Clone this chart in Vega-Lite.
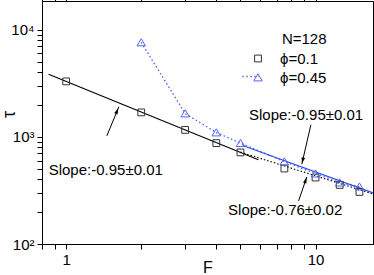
{
  "$schema": "https://vega.github.io/schema/vega-lite/v6.json",
  "width": 331,
  "height": 243,
  "autosize": "none",
  "padding": {"left": 42, "top": 1, "right": 1, "bottom": 31},
  "config": {
    "font": "Liberation Sans",
    "view": {"stroke": "black", "strokeWidth": 1},
    "axis": {"grid": false, "domainColor": "black", "tickColor": "black", "labelColor": "black", "titleColor": "black", "labelFontSize": 15, "labelFont": "Liberation Sans", "titleFont": "Liberation Sans", "titleFontWeight": "normal", "labelOverlap": false, "labelFlush": false, "tickWidth": 1, "domainWidth": 1},
    "text": {"font": "Liberation Sans", "fontSize": 15, "color": "black"}
  },
  "datasets": {
    "pts": [
      {"F": 1, "tau": 3290, "s": "ϕ=0.1"},
      {"F": 2, "tau": 1690, "s": "ϕ=0.1"},
      {"F": 3, "tau": 1160, "s": "ϕ=0.1"},
      {"F": 4, "tau": 873, "s": "ϕ=0.1"},
      {"F": 5, "tau": 715, "s": "ϕ=0.1"},
      {"F": 7.5, "tau": 506, "s": "ϕ=0.1"},
      {"F": 10, "tau": 417, "s": "ϕ=0.1"},
      {"F": 12.5, "tau": 356, "s": "ϕ=0.1"},
      {"F": 15, "tau": 306, "s": "ϕ=0.1"},
      {"F": 2, "tau": 7600, "s": "ϕ=0.45"},
      {"F": 3, "tau": 1650, "s": "ϕ=0.45"},
      {"F": 4, "tau": 1097, "s": "ϕ=0.45"},
      {"F": 5, "tau": 873, "s": "ϕ=0.45"},
      {"F": 7.5, "tau": 588, "s": "ϕ=0.45"},
      {"F": 10, "tau": 454, "s": "ϕ=0.45"},
      {"F": 12.5, "tau": 374, "s": "ϕ=0.45"},
      {"F": 15, "tau": 343, "s": "ϕ=0.45"}
    ],
    "fit": [
      {"F": 0.85, "tau": 3840, "line": "black"},
      {"F": 5.9, "tau": 610, "line": "black"},
      {"F": 5, "tau": 720, "line": "blackdot"},
      {"F": 17, "tau": 293, "line": "blackdot"},
      {"F": 5.1, "tau": 830, "line": "blue"},
      {"F": 17, "tau": 300, "line": "blue"}
    ],
    "notes": [
      {"F": 0.851, "tau": 493, "text": "Slope:-0.95±0.01"},
      {"F": 5.41, "tau": 1589, "text": "Slope:-0.95±0.01"},
      {"F": 4.46, "tau": 206, "text": "Slope:-0.76±0.02"}
    ],
    "arrows": [
      {"id": "a1", "F": 1.456, "tau": 1021, "F2": 1.627, "tau2": 1905, "hF": 1.6, "htau": 1740},
      {"id": "a2", "F": 9.58, "tau": 1294, "F2": 8.81, "tau2": 556, "hF": 8.88, "htau": 600},
      {"id": "a3", "F": 8.55, "tau": 252, "F2": 9.23, "tau2": 423, "hF": 9.13, "htau": 394}
    ]
  },
  "layer": [
    {
      "data": {"name": "pts"},
      "transform": [{"filter": "datum.s == 'ϕ=0.45'"}, {"calculate": "datum.s", "as": "dash"}],
      "mark": {"type": "line", "stroke": "#5567f2", "strokeWidth": 1.4},
      "encoding": {
        "x": {"field": "F", "type": "quantitative", "scale": {"type": "log", "domain": [0.8, 17], "nice": false},
          "axis": {"orient": "top", "labels": false, "title": null, "domain": false,
            "values": [0.8, 0.9, 1, 2, 3, 4, 5, 6, 7, 8, 9, 10], "tickSize": 5,
            "encode": {"ticks": {"update": {"y2": {"signal": "(datum.value == 1 || datum.value == 10) ? 5 : 3"}}}}}},
        "y": {"field": "tau", "type": "quantitative", "scale": {"type": "log", "domain": [100, 18500], "nice": false},
          "axis": {"orient": "right", "labels": false, "title": null, "domain": false,
            "values": [100, 200, 300, 400, 500, 600, 700, 800, 900, 1000, 2000, 3000, 4000, 5000, 6000, 7000, 8000, 9000, 10000], "tickSize": 5,
            "encode": {"ticks": {"update": {"x2": {"signal": "(datum.value == 100 || datum.value == 1000 || datum.value == 10000) ? -5 : -3"}}}}}},
        "strokeDash": {"field": "dash", "type": "nominal",
          "scale": {"domain": ["ϕ=0.45"], "range": [[1.5, 2.5]]},
          "legend": {"orient": "none", "legendX": 199.5, "legendY": 66.5, "title": null, "labelExpr": "''", "symbolType": "stroke", "symbolSize": 272, "symbolStrokeColor": "#5567f2", "symbolStrokeWidth": 1.4, "padding": 0, "labelOffset": 0}}
      }
    },
    {
      "data": {"name": "fit"},
      "transform": [{"filter": "datum.line == 'black'"}],
      "mark": {"type": "line", "stroke": "black", "strokeWidth": 1.1},
      "encoding": {
        "x": {"field": "F", "type": "quantitative", "scale": {"type": "log"}, "axis": null},
        "y": {"field": "tau", "type": "quantitative", "scale": {"type": "log"}, "axis": null}
      }
    },
    {
      "data": {"name": "fit"},
      "transform": [{"filter": "datum.line == 'blackdot'"}],
      "mark": {"type": "line", "stroke": "black", "strokeWidth": 1.1, "strokeDash": [1.5, 2]},
      "encoding": {
        "x": {"field": "F", "type": "quantitative", "scale": {"type": "log"}, "axis": null},
        "y": {"field": "tau", "type": "quantitative", "scale": {"type": "log"}, "axis": null}
      }
    },
    {
      "data": {"name": "fit"},
      "transform": [{"filter": "datum.line == 'blue'"}],
      "mark": {"type": "line", "stroke": "#2f4ff0", "strokeWidth": 1.1},
      "encoding": {
        "x": {"field": "F", "type": "quantitative", "scale": {"type": "log"}, "axis": null},
        "y": {"field": "tau", "type": "quantitative", "scale": {"type": "log"}, "axis": null}
      }
    },
    {
      "data": {"name": "pts"},
      "mark": {"type": "point", "filled": false, "strokeWidth": 1, "opacity": 1, "size": 46},
      "encoding": {
        "x": {"field": "F", "type": "quantitative", "scale": {"type": "log"},
          "axis": {"orient": "bottom", "title": "F", "titleFontSize": 16, "titlePadding": -8,
            "values": [0.8, 0.9, 1, 2, 3, 4, 5, 6, 7, 8, 9, 10],
            "labelExpr": "datum.value == 1 ? '1' : datum.value == 10 ? '10' : ''",
            "labelPadding": 3, "tickSize": 5,
            "encode": {"ticks": {"update": {"y2": {"signal": "(datum.value == 1 || datum.value == 10) ? 5 : 3"}}}}}},
        "y": {"field": "tau", "type": "quantitative", "scale": {"type": "log"},
          "axis": {"orient": "left", "title": "τ", "titleFontSize": 18, "titleX": -28, "titleY": 113, "titleBaseline": "alphabetic", "titleAlign": "center",
            "values": [100, 200, 300, 400, 500, 600, 700, 800, 900, 1000, 2000, 3000, 4000, 5000, 6000, 7000, 8000, 9000, 10000],
            "labelExpr": "datum.value == 100 ? '10²' : datum.value == 1000 ? '10³' : datum.value == 10000 ? '10⁴' : ''",
            "labelPadding": 3, "tickSize": 5,
            "encode": {"ticks": {"update": {"x2": {"signal": "(datum.value == 100 || datum.value == 1000 || datum.value == 10000) ? -5 : -3"}}}}}},
        "shape": {"field": "s", "type": "nominal",
          "scale": {"domain": ["ϕ=0.1", "ϕ=0.45"], "range": ["square", "M0,-1.1L1.25,1L-1.25,1Z"]},
          "legend": {"orient": "none", "legendX": 208.5, "legendY": 31, "title": "N=128", "titleFontSize": 15, "titleFontWeight": "normal", "titleColor": "black", "titleFont": "Liberation Sans", "titleAnchor": "end",
            "labelFontSize": 15, "labelFont": "Liberation Sans", "labelColor": "black", "symbolSize": 46, "labelOffset": 14.5, "rowPadding": 3, "padding": 0, "titlePadding": 4, "symbolStrokeWidth": 1}},
        "stroke": {"field": "s", "type": "nominal",
          "scale": {"domain": ["ϕ=0.1", "ϕ=0.45"], "range": ["#333333", "#5567f2"]}}
      }
    },
    {
      "data": {"name": "arrows"},
      "mark": {"type": "rule", "stroke": "black", "strokeWidth": 1},
      "encoding": {
        "x": {"field": "F", "type": "quantitative", "scale": {"type": "log"}, "axis": null},
        "y": {"field": "tau", "type": "quantitative", "scale": {"type": "log"}, "axis": null},
        "x2": {"field": "F2"},
        "y2": {"field": "tau2"}
      }
    },
    {
      "data": {"name": "arrows"},
      "transform": [{"filter": "datum.id == 'a1'"}],
      "mark": {"type": "point", "shape": "M0,-1L0.6,1L-0.6,1Z", "filled": true, "color": "black", "size": 36, "angle": 22.5, "opacity": 1},
      "encoding": {
        "x": {"field": "hF", "type": "quantitative", "scale": {"type": "log"}, "axis": null},
        "y": {"field": "htau", "type": "quantitative", "scale": {"type": "log"}, "axis": null}
      }
    },
    {
      "data": {"name": "arrows"},
      "transform": [{"filter": "datum.id == 'a2'"}],
      "mark": {"type": "point", "shape": "M0,-1L0.6,1L-0.6,1Z", "filled": true, "color": "black", "size": 36, "angle": 193, "opacity": 1},
      "encoding": {
        "x": {"field": "hF", "type": "quantitative", "scale": {"type": "log"}, "axis": null},
        "y": {"field": "htau", "type": "quantitative", "scale": {"type": "log"}, "axis": null}
      }
    },
    {
      "data": {"name": "arrows"},
      "transform": [{"filter": "datum.id == 'a3'"}],
      "mark": {"type": "point", "shape": "M0,-1L0.6,1L-0.6,1Z", "filled": true, "color": "black", "size": 36, "angle": 19, "opacity": 1},
      "encoding": {
        "x": {"field": "hF", "type": "quantitative", "scale": {"type": "log"}, "axis": null},
        "y": {"field": "htau", "type": "quantitative", "scale": {"type": "log"}, "axis": null}
      }
    },
    {
      "data": {"name": "notes"},
      "mark": {"type": "text", "align": "left", "baseline": "middle", "fontSize": 15, "color": "black"},
      "encoding": {
        "x": {"field": "F", "type": "quantitative", "scale": {"type": "log"}, "axis": null},
        "y": {"field": "tau", "type": "quantitative", "scale": {"type": "log"}, "axis": null},
        "text": {"field": "text"}
      }
    }
  ],
  "resolve": {"axis": {"x": "independent", "y": "independent"}}
}
